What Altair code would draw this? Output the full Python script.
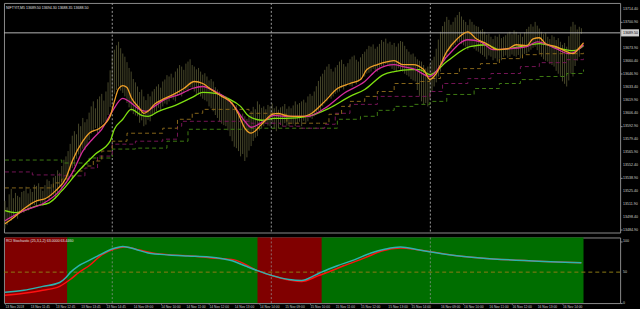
import altair as alt
import pandas as pd

# ---------------- data ----------------
# price bars (one per M5 bar): high and low
bar_high = [
    13514.8, 13508.0, 13521.5, 13527.2, 13517.5, 13523.0, 13520.0, 13518.5, 13524.0, 13525.1, 13529.5, 13522.5, 13527.2, 13524.0, 13531.5,
    13530.3, 13533.0, 13527.5, 13525.1, 13531.0, 13537.0, 13535.5, 13532.0, 13539.0, 13540.7, 13546.5, 13544.0, 13551.0, 13557.5, 13561.0,
    13566.5, 13574.0, 13582.5, 13587.2, 13584.0, 13595.0, 13592.4, 13601.0, 13596.5, 13599.6, 13606.5, 13613.0, 13618.2, 13611.0, 13620.5,
    13623.4, 13626.0, 13619.0, 13628.5, 13638.0, 13650.5, 13664.7, 13672.0, 13676.5, 13680.2, 13673.5, 13668.0, 13664.7, 13659.0, 13653.0,
    13649.2, 13641.5, 13638.0, 13633.7, 13628.0, 13630.5, 13623.4, 13619.5, 13626.0, 13623.4, 13628.5, 13631.0, 13633.7, 13636.0, 13632.5,
    13638.9, 13641.0, 13645.5, 13644.1, 13647.0, 13643.0, 13649.2, 13652.5, 13656.0, 13654.4, 13651.0, 13657.5, 13659.6, 13662.0, 13656.0,
    13654.4, 13651.5, 13653.0, 13649.2, 13646.0, 13647.5, 13644.1, 13640.0, 13641.5, 13638.9, 13633.0, 13630.5, 13628.5, 13626.0, 13621.5,
    13623.4, 13620.0, 13616.5, 13618.2, 13612.0, 13614.5, 13607.9, 13603.0, 13605.5, 13602.7, 13600.0, 13604.5, 13607.9, 13612.5, 13610.0,
    13618.2, 13615.0, 13611.5, 13613.0, 13610.0, 13614.5, 13613.0, 13616.0, 13611.0, 13613.0, 13609.5, 13612.0, 13613.0, 13615.5, 13610.5,
    13613.0, 13611.0, 13614.0, 13618.2, 13615.0, 13616.5, 13618.2, 13620.0, 13617.0, 13623.4, 13626.0, 13624.0, 13628.5, 13634.0, 13639.5,
    13644.1, 13647.0, 13651.0, 13654.4, 13657.0, 13652.0, 13649.2, 13653.5, 13656.0, 13659.6, 13661.5, 13657.0, 13654.4, 13658.0, 13662.0,
    13664.7, 13666.0, 13661.5, 13659.6, 13664.0, 13667.5, 13669.9, 13672.5, 13676.0, 13675.1, 13677.5, 13673.0, 13675.1, 13678.0, 13682.0,
    13680.2, 13683.5, 13678.5, 13680.2, 13677.0, 13679.0, 13675.1, 13678.5, 13681.0, 13680.2, 13676.0, 13672.5, 13669.9, 13667.0, 13668.0,
    13664.7, 13662.0, 13660.5, 13659.6, 13656.0, 13652.5, 13654.4, 13657.0, 13661.0, 13664.7, 13673.0, 13682.5, 13690.6, 13696.5, 13701.0,
    13706.1, 13703.0, 13698.0, 13700.9, 13705.5, 13708.0, 13711.3, 13706.5, 13703.0, 13700.9, 13697.5, 13703.5, 13700.9, 13698.0, 13696.5,
    13695.8, 13692.0, 13693.5, 13690.6, 13687.5, 13688.5, 13685.4, 13683.0, 13686.5, 13685.4, 13688.0, 13684.0, 13685.4, 13687.0, 13689.0,
    13690.6, 13688.0, 13692.0, 13690.6, 13687.5, 13689.0, 13685.4, 13690.0, 13693.5, 13695.8, 13698.5, 13696.0, 13700.9, 13697.0, 13694.0,
    13690.6, 13688.0, 13689.5, 13685.4, 13683.0, 13687.0, 13685.4, 13682.0, 13684.0, 13680.2, 13677.0, 13679.0, 13675.1, 13686.0, 13696.0,
    13700.9, 13698.0, 13693.0, 13695.8, 13694.3]
bar_low = [
    13485.9, 13489.5, 13497.0, 13494.1, 13499.0, 13503.5, 13496.2, 13501.0, 13505.5, 13502.4, 13508.0, 13504.5, 13506.5, 13511.0, 13510.5,
    13509.6, 13514.0, 13512.0, 13509.6, 13511.5, 13518.0, 13514.8, 13519.5, 13521.0, 13516.9, 13522.0, 13528.5, 13525.1, 13533.0, 13540.5,
    13535.5, 13546.0, 13549.0, 13551.0, 13558.5, 13563.0, 13561.3, 13569.0, 13567.5, 13571.7, 13578.0, 13584.5, 13587.2, 13590.5, 13585.0,
    13587.2, 13594.0, 13596.0, 13597.5, 13604.0, 13612.5, 13618.2, 13626.0, 13630.0, 13633.7, 13629.5, 13627.0, 13623.4, 13616.5, 13612.0,
    13607.9, 13605.0, 13603.5, 13602.7, 13596.0, 13598.5, 13592.4, 13594.0, 13599.0, 13597.5, 13603.0, 13605.5, 13607.9, 13611.5, 13609.0,
    13613.0, 13616.0, 13615.0, 13618.2, 13621.5, 13620.0, 13618.2, 13624.0, 13626.5, 13623.4, 13627.0, 13630.0, 13628.5, 13633.0, 13631.0,
    13628.5, 13626.0, 13625.0, 13623.4, 13621.0, 13619.5, 13618.2, 13613.0, 13611.0, 13607.9, 13604.0, 13601.0, 13597.5, 13595.0, 13593.5,
    13592.4, 13588.0, 13582.0, 13576.8, 13571.0, 13569.5, 13566.5, 13561.0, 13563.5, 13556.2, 13560.0, 13567.0, 13571.7, 13577.0, 13580.5,
    13582.0, 13588.0, 13590.0, 13592.4, 13595.0, 13593.0, 13592.4, 13596.0, 13590.0, 13587.2, 13590.5, 13594.0, 13592.4, 13595.5, 13593.0,
    13592.4, 13596.0, 13594.5, 13592.4, 13595.5, 13597.0, 13592.4, 13598.0, 13596.0, 13597.5, 13601.0, 13600.0, 13602.7, 13605.0, 13608.5,
    13607.9, 13613.0, 13616.0, 13618.2, 13624.5, 13621.0, 13623.4, 13626.0, 13627.5, 13628.5, 13632.0, 13630.5, 13633.7, 13636.0, 13634.5,
    13633.7, 13637.5, 13636.0, 13638.9, 13641.0, 13643.5, 13644.1, 13647.0, 13648.0, 13649.2, 13652.0, 13650.5, 13649.2, 13651.5, 13655.0,
    13654.4, 13657.0, 13656.0, 13654.4, 13652.0, 13650.5, 13649.2, 13652.5, 13651.0, 13649.2, 13647.0, 13645.5, 13644.1, 13641.5, 13640.0,
    13638.9, 13630.0, 13624.0, 13618.2, 13615.5, 13616.5, 13613.0, 13620.0, 13628.0, 13633.7, 13638.0, 13644.0, 13649.2, 13655.5, 13660.0,
    13664.7, 13670.0, 13672.5, 13675.1, 13677.0, 13679.5, 13680.2, 13678.0, 13676.5, 13675.1, 13672.0, 13676.0, 13675.1, 13673.0, 13671.0,
    13669.9, 13668.0, 13666.5, 13664.7, 13662.0, 13666.0, 13664.7, 13661.0, 13663.0, 13659.6, 13662.5, 13661.0, 13664.7, 13666.0, 13663.5,
    13664.7, 13667.0, 13665.5, 13664.7, 13666.5, 13663.0, 13664.7, 13667.5, 13668.0, 13669.9, 13672.0, 13674.0, 13675.1, 13671.5, 13668.0,
    13664.7, 13662.0, 13660.5, 13659.6, 13657.0, 13656.0, 13654.4, 13650.0, 13647.0, 13644.1, 13639.0, 13636.5, 13633.7, 13640.0, 13647.0,
    13644.1, 13655.0, 13660.5, 13664.7, 13688.4]
bar_idx = list(range(len(bar_high)))

# fast MA (orange)
fast_x = [0, 4, 9, 15, 19, 24, 29, 32, 37, 40, 45, 50, 52, 54, 56, 58, 60, 64, 66, 68, 71, 76, 81, 85, 90,
          94, 98, 103, 108, 111, 114, 117, 122, 127, 130, 133, 137, 142, 145, 152, 158, 164, 169, 172, 177,
          182, 185, 189, 194, 199, 202, 205, 210, 215, 220, 224, 229, 234, 239, 243, 248, 251, 254, 257,
          262, 267, 270, 273, 275]
fast_y = [13491.0, 13497.2, 13506.5, 13514.8, 13516.9, 13525.1, 13538.6, 13556.2, 13576.8, 13585.1,
          13590.3, 13602.7, 13618.2, 13631.6, 13634.7, 13632.7, 13622.3, 13611.0, 13605.8, 13607.9,
          13615.1, 13621.3, 13626.5, 13631.6, 13638.9, 13636.8, 13630.6, 13623.4, 13616.1, 13604.8,
          13590.3, 13585.1, 13594.4, 13604.8, 13605.8, 13603.7, 13602.7, 13602.7, 13604.8, 13618.2,
          13631.6, 13636.8, 13640.9, 13651.3, 13656.5, 13659.6, 13660.6, 13656.5, 13656.5, 13651.3,
          13640.9, 13647.2, 13669.9, 13683.3, 13690.6, 13683.3, 13678.2, 13672.0, 13673.0, 13677.1,
          13676.1, 13683.3, 13684.4, 13678.2, 13675.1, 13669.9, 13667.8, 13674.0, 13679.2]

# middle MA (magenta)
mid_x = [0, 9, 18, 26, 32, 37, 42, 46, 51, 56, 59, 64, 67, 71, 76, 83, 89, 94, 100, 104, 109, 114, 117,
         123, 128, 133, 144, 152, 161, 171, 177, 185, 189, 194, 202, 210, 220, 226, 232, 240, 248, 253,
         262, 268, 273, 275]
mid_y = [13494.1, 13504.5, 13511.7, 13525.1, 13543.8, 13566.5, 13579.9, 13589.2, 13607.9, 13621.3,
         13618.2, 13609.9, 13607.9, 13613.0, 13620.3, 13625.4, 13631.6, 13633.7, 13628.5, 13623.4,
         13613.0, 13597.5, 13591.3, 13597.5, 13603.7, 13602.7, 13602.7, 13611.0, 13626.5, 13638.9,
         13651.3, 13656.5, 13654.4, 13652.3, 13644.1, 13664.7, 13682.3, 13680.2, 13672.0, 13673.0,
         13675.1, 13680.2, 13673.0, 13667.8, 13673.0, 13677.1]

# slow MA (green)
slow_x = [0, 5, 15, 21, 27, 35, 43, 50, 52, 56, 60, 65, 68, 73, 81, 89, 94, 100, 106, 112, 116, 122,
          128, 133, 144, 154, 164, 171, 180, 185, 193, 197, 202, 210, 221, 229, 235, 245, 254, 264, 270,
          273, 275]
slow_y = [13504.5, 13502.4, 13509.6, 13512.7, 13525.1, 13545.8, 13563.4, 13576.8, 13589.2, 13599.6,
          13609.9, 13603.7, 13602.7, 13607.9, 13614.1, 13622.3, 13627.5, 13626.5, 13621.3, 13613.0,
          13602.7, 13598.6, 13600.6, 13600.6, 13602.7, 13611.0, 13623.4, 13630.6, 13646.1, 13649.2,
          13651.3, 13651.3, 13646.1, 13659.6, 13675.1, 13677.1, 13672.0, 13675.1, 13678.2, 13673.0,
          13670.9, 13673.0, 13676.1]

# shifted step lines (dashed)
olive_x = [0, 20, 23, 27, 32, 37, 42, 46, 51, 58, 75, 82, 89, 94, 106, 116, 129, 134, 149, 154, 160,
           164, 171, 177, 185, 191, 197, 202, 207, 216, 226, 235, 246, 254, 275]
olive_y = [13528.2, 13528.2, 13533.4, 13537.5, 13545.8, 13551.0, 13556.2, 13566.5, 13576.8, 13585.1,
           13590.3, 13599.6, 13605.8, 13609.9, 13609.9, 13605.8, 13604.8, 13595.5, 13595.5, 13604.8,
           13613.0, 13618.2, 13623.4, 13628.5, 13636.8, 13636.8, 13638.9, 13642.0, 13647.2, 13652.3,
           13657.5, 13662.7, 13666.8, 13667.8, 13670.9]
plum_x = [0, 13, 27, 38, 44, 51, 62, 75, 82, 84, 106, 117, 131, 141, 152, 157, 164, 177, 188, 202, 208,
          220, 231, 245, 254, 267, 275]
plum_y = [13544.8, 13541.7, 13540.7, 13548.9, 13561.3, 13573.7, 13576.8, 13578.9, 13592.4, 13597.5,
          13597.5, 13595.5, 13592.4, 13590.3, 13594.4, 13605.8, 13615.1, 13623.4, 13623.4, 13628.5,
          13636.8, 13641.9, 13647.2, 13654.4, 13658.5, 13661.6, 13664.7]
dkgreen_x = [0, 27, 37, 40, 51, 62, 77, 87, 117, 149, 158, 169, 177, 185, 194, 202, 210, 223, 235, 245,
             254, 267, 275]
dkgreen_y = [13557.2, 13554.1, 13553.1, 13559.3, 13568.6, 13569.6, 13576.8, 13589.2, 13590.3, 13590.3,
             13599.6, 13602.7, 13608.9, 13613.0, 13615.1, 13618.2, 13625.4, 13631.6, 13636.8, 13640.9,
             13644.1, 13647.2, 13651.3]

bid_price = [13689.5]
price_ticks = [13714.40, 13700.90, 13687.40, 13673.90, 13660.40, 13646.90, 13633.40, 13619.90, 13606.40,
               13592.90, 13579.40, 13565.90, 13552.40, 13538.90, 13525.40, 13511.90, 13498.40, 13484.90]
day_separators = [51, 126.6, 202.2]
header_main = "NIFTYIT,M5  13689.50 13694.30 13688.35 13688.50"

# stochastic sub window
stoch_main_x = [0, 9, 18, 26, 29, 31, 35, 40, 44, 48, 52, 56, 62, 68, 78, 87, 97, 108, 114, 120, 127, 135,
                141, 147, 151, 158, 166, 174, 181, 188, 197, 212, 226, 249, 274]
stoch_main_y = [17.5, 20.6, 27.0, 33.3, 41.3, 49.2, 60.3, 69.0, 76.0, 83.0, 88.5, 91.5, 87.0, 81.0, 77.8,
                76.2, 74.6, 68.3, 60.3, 52.4, 44.4, 38.1, 36.5, 44.4, 50.8, 60.3, 69.8, 81.0, 87.3, 90.5,
                85.7, 77.8, 73.0, 68.3, 65.1]
stoch_sig_x = [0, 9, 18, 26, 31, 35, 40, 46, 52, 57, 64, 70, 79, 89, 98, 109, 120, 130, 141, 149, 153,
               161, 171, 179, 188, 197, 212, 226, 249, 274]
stoch_sig_y = [12.7, 15.9, 20.6, 27.0, 38.1, 49.2, 60.3, 77.8, 87.3, 90.5, 85.7, 81.0, 77.8, 76.2, 73.0,
               69.8, 52.4, 41.3, 34.9, 44.4, 49.2, 60.3, 73.0, 84.1, 88.9, 85.7, 77.8, 73.0, 68.3, 65.1]
zone_start = [0, 30, 120.5, 151]
zone_end = [30, 120.5, 151, 275]
zone_state = ["down", "up", "down", "up"]
signal_bar = [30, 120.5, 151]
signal_state = ["up", "down", "up"]
stoch_ticks = [0, 50, 100]
header_sub = "RCI Stochastic (25,3,1,2) 63.0000 63.4460"

time_pos = [0, 12, 24, 36, 48, 61, 74, 86, 97, 109, 121, 133, 145, 157, 169, 182, 193, 207, 218, 230,
            241, 253, 265]
time_text = ["13 Nov 2018", "13 Nov 11:45", "13 Nov 12:45", "13 Nov 13:45", "13 Nov 14:45",
             "14 Nov 09:00", "14 Nov 10:00", "14 Nov 11:00", "14 Nov 12:00", "14 Nov 13:00",
             "14 Nov 14:00", "15 Nov 09:00", "15 Nov 10:00", "15 Nov 11:00", "15 Nov 12:00",
             "15 Nov 13:00", "15 Nov 14:00", "16 Nov 09:00", "16 Nov 10:00", "16 Nov 11:00",
             "16 Nov 12:00", "16 Nov 13:00", "16 Nov 14:00"]

# ---------------- chart ----------------
W = 620
H_MAIN = 231
H_SUB = 66
XDOM = [-0.47, 292.4]
YDOM = [13481.8, 13720.6]
SDOM = [0, 106]
FONT = "Liberation Sans"
LBL = "#d0d0d0"

xs = alt.Scale(domain=XDOM, nice=False, zero=False)
ys = alt.Scale(domain=YDOM, nice=False, zero=False)
ss = alt.Scale(domain=SDOM, nice=False, zero=False)

def line_df(xv, yv):
    return pd.DataFrame({"bar": xv, "v": yv})

candles = alt.Chart(pd.DataFrame({"bar": bar_idx, "hi": bar_high, "lo": bar_low})).mark_rule(
    color="#48482a", strokeWidth=1
).encode(
    x=alt.X("bar:Q", scale=xs, axis=None),
    y=alt.Y("hi:Q", scale=ys, axis=alt.Axis(
        orient="right", values=price_ticks, title=None, grid=False, domain=False, labels=False,
        tickColor="#909090", tickSize=2)),
    y2="lo:Q",
)

# the label nearest the current price is hidden behind the bid box, as in the terminal
shown_ticks = [v for v in price_ticks if abs(v - bid_price[0]) > 4]
price_lbl = alt.Chart(pd.DataFrame({"p": shown_ticks, "t": ["%.2f" % v for v in shown_ticks]})).mark_text(
    align="left", baseline="middle", fontSize=3.6, color=LBL, font=FONT, clip=False
).encode(x=alt.value(W + 3), y=alt.Y("p:Q", scale=ys), text="t:N")

seps = alt.Chart(pd.DataFrame({"bar": day_separators})).mark_rule(
    color="#9a9a9a", strokeWidth=1, strokeDash=[2, 2]
).encode(x=alt.X("bar:Q", scale=xs, axis=None))

bid = alt.Chart(pd.DataFrame({"p": bid_price})).mark_rule(color="#b4b4b4", strokeWidth=1).encode(
    y=alt.Y("p:Q", scale=ys))

def dashed(xv, yv, color):
    return alt.Chart(line_df(xv, yv)).mark_line(
        color=color, strokeWidth=1, strokeDash=[4, 3], interpolate="step-after"
    ).encode(x=alt.X("bar:Q", scale=xs), y=alt.Y("v:Q", scale=ys))

def solid(xv, yv, color, w=1.3):
    return alt.Chart(line_df(xv, yv)).mark_line(
        color=color, strokeWidth=w, interpolate="monotone"
    ).encode(x=alt.X("bar:Q", scale=xs), y=alt.Y("v:Q", scale=ys))

bid_box = alt.Chart(pd.DataFrame({"p": bid_price})).mark_point(
    shape="M -1 -0.4 L 1 -0.4 L 1 0.4 L -1 0.4 Z", filled=True, color="#d0d0d0", opacity=1,
    size=324, clip=False
).encode(x=alt.value(W + 10), y=alt.Y("p:Q", scale=ys))
bid_txt = alt.Chart(pd.DataFrame({"p": bid_price, "t": ["%.2f" % bid_price[0]]})).mark_text(
    align="left", baseline="middle", fontSize=3.6, color="black", font=FONT, clip=False
).encode(x=alt.value(W + 3), y=alt.Y("p:Q", scale=ys), text="t:N")

head = alt.Chart(pd.DataFrame({"t": [header_main]})).mark_text(
    align="left", baseline="middle", fontSize=3.6, color="#e0e0e0", font=FONT
).encode(x=alt.value(2), y=alt.value(5), text="t:N")

main = alt.layer(
    candles, seps, bid,
    dashed(dkgreen_x, dkgreen_y, "#3d7a12"),
    dashed(plum_x, plum_y, "#741456"),
    dashed(olive_x, olive_y, "#86661a"),
    solid(slow_x, slow_y, "#7fe010"),
    solid(mid_x, mid_y, "#d42c9c"),
    solid(fast_x, fast_y, "#f0a028"),
    price_lbl, bid_box, bid_txt, head,
).properties(width=W, height=H_MAIN)

# sub window
zones = alt.Chart(pd.DataFrame({"s": zone_start, "e": zone_end, "st": zone_state})).mark_rect().encode(
    x=alt.X("s:Q", scale=xs, axis=alt.Axis(
        orient="bottom", values=time_pos, title=None, grid=False, domain=False, labels=False,
        tickColor="#909090", tickSize=1)),
    x2="e:Q",
    y=alt.value(0), y2=alt.value(H_SUB),
    color=alt.Color("st:N", scale=alt.Scale(domain=["down", "up"], range=["#800000", "#006e00"]),
                    legend=None),
)
time_lbl = alt.Chart(pd.DataFrame({"bar": time_pos, "t": time_text})).mark_text(
    align="left", baseline="top", fontSize=3.3, color=LBL, font=FONT, clip=False, dx=0.5
).encode(x=alt.X("bar:Q", scale=xs), y=alt.value(H_SUB + 1.5), text="t:N")

sig_rules = alt.Chart(pd.DataFrame({"bar": signal_bar, "st": signal_state})).mark_rule(strokeWidth=2).encode(
    x=alt.X("bar:Q", scale=xs),
    color=alt.Color("st:N", scale=alt.Scale(domain=["down", "up"], range=["#ff1010", "#30ff30"]),
                    legend=None),
)
lvl = alt.Chart(pd.DataFrame({"v": [50]})).mark_rule(color="#8c7a14", strokeWidth=1, strokeDash=[4, 3]).encode(
    y=alt.Y("v:Q", scale=ss, axis=alt.Axis(
        orient="right", values=stoch_ticks, title=None, grid=False, domain=False, labels=False,
        tickColor="#909090", tickSize=2)))
stoch_lbl = alt.Chart(pd.DataFrame({"v": stoch_ticks, "t": [str(v) for v in stoch_ticks]})).mark_text(
    align="left", baseline="middle", fontSize=3.6, color=LBL, font=FONT, clip=False
).encode(x=alt.value(W + 3), y=alt.Y("v:Q", scale=ss), text="t:N")
sub_seps = alt.Chart(pd.DataFrame({"bar": day_separators})).mark_rule(
    color="#9a9a9a", strokeWidth=1, strokeDash=[2, 2], opacity=0.7
).encode(x=alt.X("bar:Q", scale=xs))
st_main = alt.Chart(line_df(stoch_main_x, stoch_main_y)).mark_line(
    color="#2cb4b0", strokeWidth=1.5, interpolate="monotone").encode(
    x=alt.X("bar:Q", scale=xs), y=alt.Y("v:Q", scale=ss))
st_sig = alt.Chart(line_df(stoch_sig_x, stoch_sig_y)).mark_line(
    color="#ff1010", strokeWidth=1.5, interpolate="monotone").encode(
    x=alt.X("bar:Q", scale=xs), y=alt.Y("v:Q", scale=ss))
head_sub = alt.Chart(pd.DataFrame({"t": [header_sub]})).mark_text(
    align="left", baseline="middle", fontSize=3.6, color="#e0e0e0", font=FONT
).encode(x=alt.value(2), y=alt.value(4), text="t:N")

sub = alt.layer(zones, sub_seps, lvl, sig_rules, st_sig, st_main, head_sub, stoch_lbl, time_lbl).properties(
    width=W, height=H_SUB)

chart = alt.vconcat(main, sub, spacing=2).properties(
    background="black", padding={"left": 1, "top": 1, "right": 0, "bottom": 0}
).configure_view(stroke="#8a8a8a", strokeWidth=1, fill="black").configure_concat(spacing=2)

chart.save("out.html", embed_options={"renderer": "svg", "actions": False})
